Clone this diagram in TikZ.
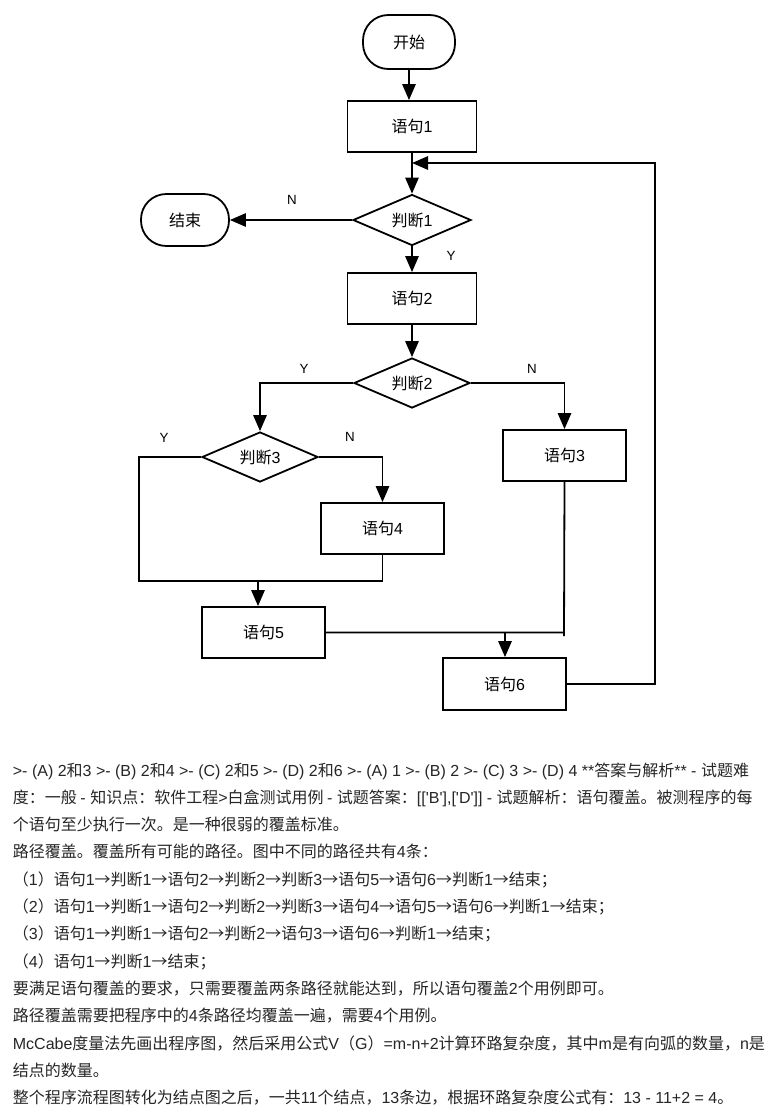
\documentclass[tikz,border=0pt]{standalone}
\usepackage{fontspec}
\newfontfamily\cjkfont{Noto Sans CJK SC}
\newfontfamily\latfont{Liberation Sans}
\usetikzlibrary{arrows.meta, shapes.geometric}

% Chinese characters in Noto, Latin ones in Liberation Sans
\XeTeXinterchartokenstate=1
\newXeTeXintercharclass\cjkclass
\newcount\cjkcode
\def\setcjkrange#1#2{\cjkcode=#1 \loop\XeTeXcharclass\cjkcode=\cjkclass
  \ifnum\cjkcode<#2 \advance\cjkcode by 1 \repeat}
\setcjkrange{"3000}{"9FFF}
\setcjkrange{"FF00}{"FFEF}
\XeTeXcharclass"2192=\cjkclass
\XeTeXinterchartoks 0 \cjkclass={\cjkfont}
\XeTeXinterchartoks 4095 \cjkclass={\cjkfont}
\XeTeXinterchartoks \cjkclass 0={\latfont}
\XeTeXinterchartoks 4095 0={\latfont}

\begin{document}
\begin{tikzpicture}[x=0.75pt, y=-0.75pt, line width=1.35pt,
    every node/.style={inner sep=0pt, font=\latfont\fontsize{12}{14}\selectfont},
    stmt/.style={draw, rectangle, minimum width=92.25pt, minimum height=38.25pt},
    widestmt/.style={stmt, minimum width=96.75pt},
    cond/.style={draw, diamond, aspect=2.3, minimum width=87pt, minimum height=37.5pt},
    term/.style={draw, rectangle, rounded corners=19pt, minimum width=69pt, minimum height=40.5pt},
    yn/.style={font=\latfont\fontsize{10}{12}\selectfont},
    para/.style={anchor=base west, text=black!85, font=\latfont\fontsize{12}{14}\selectfont},
    >={Triangle[length=12pt, width=10pt]}]
  \path[fill=white, use as bounding box] (0,0) rectangle (784,1114);

  % flow chart
  \node[term] (start) at (409,42) {开始};
  \node[widestmt] (s1) at (412,126.5) {语句1};
  \node[cond, minimum width=88.5pt, minimum height=38.25pt] (d1) at (412,220) {判断1};
  \node[term, minimum width=66pt, minimum height=39pt] (stop) at (185,220) {结束};
  \node[widestmt] (s2) at (412,298.5) {语句2};
  \node[cond] (d2) at (412,383) {判断2};
  \node[cond] (d3) at (260,457) {判断3};
  \node[stmt] (s3) at (564.5,455.5) {语句3};
  \node[stmt] (s4) at (382.5,528.5) {语句4};
  \node[stmt] (s5) at (263.5,632.5) {语句5};
  \node[stmt, minimum height=39pt] (s6) at (504.5,684) {语句6};

  \node[yn] (n1) at (292,200) {N};
  \node[yn] (y1) at (451,256) {Y};
  \node[yn] (y2) at (304,369) {Y};
  \node[yn] (n2) at (532,369) {N};
  \node[yn] (y3) at (164,438) {Y};
  \node[yn] (n3) at (350,437) {N};

  \coordinate (left3) at (139,457);
  \coordinate (low3) at (139,581);
  \coordinate (join5) at (258,581);
  \coordinate (end3) at (564,636);
  \coordinate (join6) at (505,632);
  \coordinate (back) at (655,684);
  \coordinate (backtop) at (655,163);

  \draw[->]
    (start) -- (start |- s1.north);
  \draw[->]
    (s1) -- (d1);
  \draw[->]
    (d1) -- (stop);
  \draw[->]
    (d1) -- (s2);
  \draw[->]
    (s2) -- (d2);
  \draw[->]
    (d2.west) -| (d3.north);
  \draw[->]
    (d2.east) -| (s3.north);
  \draw[->]
    (d3.east) -| (s4.north);

  \draw
    (d3.west) -- (left3) -- (low3) -- (s4.south |- low3) -- (s4.south);
  \draw[->]
    (join5) -- (join5 |- s5.north);

  \draw
    (s3.south) -- (end3)
    (s5.east) -- (s5.east -| end3);
  \draw[->]
    (join6) -- (join6 |- s6.north);

  \draw[->]
    (s6.east) -- (back) -- (backtop) -- (s1.south |- backtop);

  % answer text
  \node[para] (t1) at (12,776) {>- (A) 2和3 >- (B) 2和4 >- (C) 2和5 >- (D) 2和6 >- (A) 1 >- (B) 2 >- (C) 3 >- (D) 4 **答案与解析** - 试题难};
  \node[para] (t2) at (12,803.3) {度：一般 - 知识点：软件工程>白盒测试用例 - 试题答案：[['B'],['D']] - 试题解析：语句覆盖。被测程序的每};
  \node[para] (t3) at (12,830.6) {个语句至少执行一次。是一种很弱的覆盖标准。};
  \node[para] (t4) at (12,857.9) {路径覆盖。覆盖所有可能的路径。图中不同的路径共有4条：};
  \node[para] (t5) at (12,885.2) {（1）语句1→判断1→语句2→判断2→判断3→语句5→语句6→判断1→结束；};
  \node[para] (t6) at (12,912.5) {（2）语句1→判断1→语句2→判断2→判断3→语句4→语句5→语句6→判断1→结束；};
  \node[para] (t7) at (12,939.8) {（3）语句1→判断1→语句2→判断2→语句3→语句6→判断1→结束；};
  \node[para] (t8) at (12,967.1) {（4）语句1→判断1→结束；};
  \node[para] (t9) at (12,994.4) {要满足语句覆盖的要求，只需要覆盖两条路径就能达到，所以语句覆盖2个用例即可。};
  \node[para] (t10) at (12,1021.7) {路径覆盖需要把程序中的4条路径均覆盖一遍，需要4个用例。};
  \node[para] (t11) at (12,1049) {McCabe度量法先画出程序图，然后采用公式V（G）=m-n+2计算环路复杂度，其中m是有向弧的数量，n是};
  \node[para] (t12) at (12,1076.3) {结点的数量。};
  \node[para] (t13) at (12,1103.6) {整个程序流程图转化为结点图之后，一共11个结点，13条边，根据环路复杂度公式有：13 - 11+2 = 4。};
\end{tikzpicture}
\end{document}
